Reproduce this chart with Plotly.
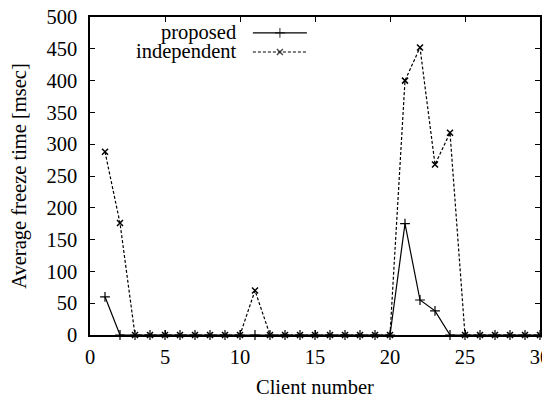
import plotly.graph_objects as go

clients = list(range(1, 31))
proposed = [60, 0, 0, 0, 0, 0, 0, 0, 0, 0,
            0, 0, 0, 0, 0, 0, 0, 0, 0, 0,
            175, 55, 38, 0, 0, 0, 0, 0, 0, 0]
independent = [288, 176, 0, 0, 0, 0, 0, 0, 0, 0,
               70, 0, 0, 0, 0, 0, 0, 0, 0, 0,
               400, 452, 268, 318, 0, 0, 0, 0, 0, 0]
x_ticks = [0, 5, 10, 15, 20, 25, 30]
y_ticks = [0, 50, 100, 150, 200, 250, 300, 350, 400, 450, 500]

FONT = "'Liberation Serif', Tinos, 'Times New Roman', Times, serif"
FS = 20.5
# page body has an 8px default margin, so the figure is sized to fit the window
W, H = 542, 386
L, R, T, B = 82, 10, 9, 59

fig = go.Figure()
fig.add_trace(go.Scatter(
    x=clients, y=proposed, mode="lines+markers", name="proposed",
    line=dict(color="black", width=1.2),
    marker=dict(symbol="cross-thin-open", size=7, color="black", line=dict(width=1.2, color="black")),
    cliponaxis=False, showlegend=False))
fig.add_trace(go.Scatter(
    x=clients, y=independent, mode="lines+markers", name="independent",
    line=dict(color="black", width=1.2, dash="3px,2px"),
    marker=dict(symbol="x-thin-open", size=6, color="black", line=dict(width=1.5, color="black")),
    cliponaxis=False, showlegend=False))

# legend samples drawn on a hidden overlay axis (0..1)
fig.add_trace(go.Scatter(
    x=[0.362, 0.422, 0.482], y=[0.950, 0.950, 0.950], xaxis="x2", yaxis="y2",
    mode="lines+markers", line=dict(color="black", width=1.2),
    marker=dict(symbol="cross-thin-open", size=[0, 7, 0], line=dict(width=1.2, color="black")),
    showlegend=False, hoverinfo="skip"))
fig.add_trace(go.Scatter(
    x=[0.362, 0.422, 0.482], y=[0.890, 0.890, 0.890], xaxis="x2", yaxis="y2",
    mode="lines+markers", line=dict(color="black", width=1.2, dash="3px,2px"),
    marker=dict(symbol="x-thin-open", size=[0, 6, 0], line=dict(width=1.5, color="black")),
    showlegend=False, hoverinfo="skip"))

for txt, yy in [("proposed", 0.950), ("independent", 0.890)]:
    fig.add_annotation(x=0.329, y=yy, xref="paper", yref="paper", text=txt,
                       showarrow=False, xanchor="right", yanchor="middle",
                       font=dict(family=FONT, size=FS, color="black"))

# x-axis title placed as text below the tick labels
fig.add_annotation(x=0.5, y=-0.165, xref="paper", yref="paper", text="Client number",
                   showarrow=False, xanchor="center", yanchor="middle",
                   font=dict(family=FONT, size=FS, color="black"))

axis_common = dict(showgrid=False, zeroline=False, showline=True, linecolor="black",
                   linewidth=1.5, mirror="allticks", ticks="inside", ticklen=5,
                   tickcolor="black", tickwidth=1, automargin=False,
                   ticklabeloverflow="allow",
                   tickfont=dict(family=FONT, size=FS, color="black"))

fig.update_layout(
    width=W, height=H,
    margin=dict(l=L, r=R, t=T, b=B),
    paper_bgcolor="white", plot_bgcolor="white",
    font=dict(family=FONT, size=FS, color="black"),
    xaxis=dict(range=[0, 30], tickvals=x_ticks, ticktext=[str(v) for v in x_ticks],
               ticklabelstandoff=3, **axis_common),
    yaxis=dict(range=[0, 500], tickvals=y_ticks, ticktext=[str(v) for v in y_ticks],
               ticklabelstandoff=7,
               title=dict(text="Average freeze time [msec]", font=dict(family=FONT, size=FS, color="black"), standoff=20),
               **axis_common),
    xaxis2=dict(range=[0, 1], overlaying="x", visible=False),
    yaxis2=dict(range=[0, 1], overlaying="y", visible=False),
)

fig.write_html("out.html")
